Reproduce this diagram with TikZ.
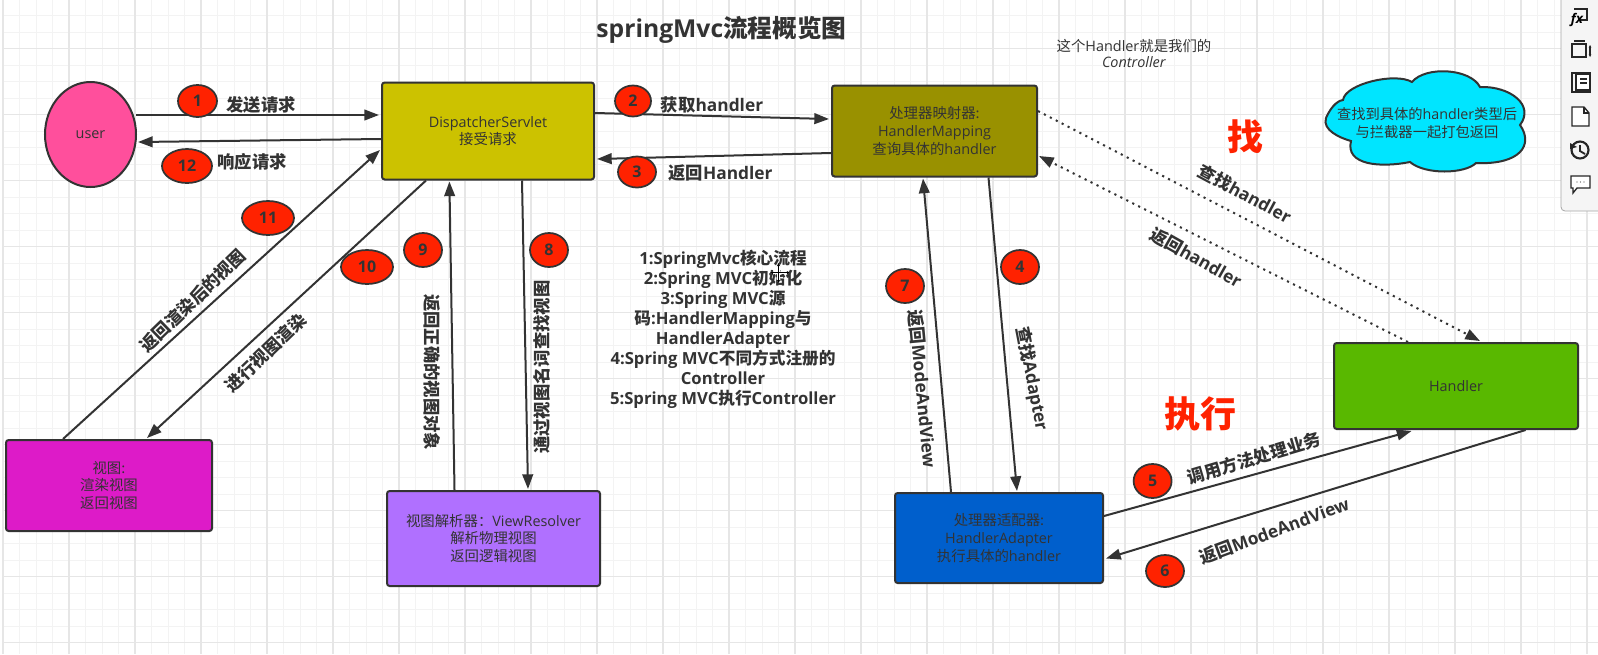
\documentclass[tikz,border=0pt]{standalone}
\usepackage{fontspec}
\setmainfont{Open Sans}
\newfontfamily\cjk{Noto Sans CJK SC}
\newcommand{\zh}[1]{{\cjk #1}}
\usetikzlibrary{arrows.meta, shapes.geometric}

\definecolor{inkdark}{HTML}{333333}
\definecolor{gridminor}{HTML}{F3F3F3}
\definecolor{gridmajor}{HTML}{E6E6E6}
\definecolor{badgered}{HTML}{FF2200}

\tikzset{
  boxsize/.style 2 args={minimum width=#1*0.75pt, minimum height=#2*0.75pt},
  stagebox/.style={draw=inkdark, line width=1.5pt, rounded corners=2pt, inner sep=0pt,
    align=center, text=inkdark, font=\fontsize{10.8pt}{13.2pt}\selectfont},
  badge/.style={ellipse, draw=inkdark, line width=1.3pt, fill=badgered, inner sep=0pt,
    text=inkdark, font=\fontsize{12pt}{14pt}\selectfont\bfseries},
  steplabel/.style={text=inkdark, inner sep=0pt, font=\fontsize{13pt}{15pt}\selectfont\bfseries},
  link/.style={->, line width=1.5pt, draw=inkdark},
  dotlink/.style={->, line width=1.5pt, draw=inkdark, dash pattern=on 1.6pt off 3.4pt},
  toolicon/.style={draw=black!85, line width=1pt},
}

\begin{document}
\begin{tikzpicture}[x=0.75pt, y=-0.75pt, >={Triangle[length=11pt,width=8pt]}]
  \useasboundingbox (0,0) rectangle (1598,654);

  % Grid
  \fill[white] (0,0) rectangle (1598,654);
  \foreach \gx in {0,1,...,97} {
    \draw[gridminor, line width=0.7pt] ({\gx*16.5+3},0) -- ({\gx*16.5+3},654);
  }
  \foreach \gy in {0,1,...,40} {
    \draw[gridminor, line width=0.7pt] (3,{\gy*16.5-0.8}) -- (1598,{\gy*16.5-0.8});
  }
  \foreach \gx in {0,1,...,24} {
    \draw[gridmajor, line width=0.8pt] ({\gx*66+3},0) -- ({\gx*66+3},654);
  }
  \foreach \gy in {0,1,...,9} {
    \draw[gridmajor, line width=0.8pt] (3,{\gy*66+48.7}) -- (1598,{\gy*66+48.7});
  }

  % Title and notes
  \node[text=inkdark, inner sep=0pt, font=\fontsize{18.5pt}{22pt}\selectfont\bfseries] (title) at (721.5,29.5) {springMvc\zh{流程概览图}};
  \node[text=inkdark, inner sep=0pt, align=center, font=\fontsize{10.8pt}{12pt}\selectfont] (note) at (1134,53) {\zh{这个}Handler\zh{就是我们的}\\\textit{Controller}};
  \node[text=inkdark, inner sep=0pt, align=center, font=\fontsize{12.5pt}{15pt}\selectfont\bfseries] (topics) at (723,329.5) {1:SpringMvc\zh{核心流程}\\2:Spring MVC\zh{初始化}\\3:Spring MVC\zh{源}\\\zh{码}:HandlerMapping\zh{与}\\HandlerAdapter\\4:Spring MVC\zh{不同方式注册的}\\Controller\\5:Spring MVC\zh{执行}Controller};
  \node[text=badgered, inner sep=0pt, font=\fontsize{27pt}{30pt}\selectfont\bfseries\cjk] (findmark) at (1245,136.5) {找};
  \node[text=badgered, inner sep=0pt, font=\fontsize{27pt}{30pt}\selectfont\bfseries\cjk] (runmark) at (1200.5,414) {执行};

  % Stages
  \node[ellipse, stagebox, fill={rgb,255:red,255;green,79;blue,156}, boxsize={91}{105}] (user) at (90.5,134.5) {user};
  \node[stagebox, fill={rgb,255:red,204;green,194;blue,0}, boxsize={212}{97}] (dispatcher) at (488,131) {DispatcherServlet\\\zh{接受请求}};
  \node[stagebox, fill={rgb,255:red,153;green,145;blue,0}, boxsize={205}{91}] (mapping) at (934.5,131) {\zh{处理器映射器:}\\HandlerMapping\\\zh{查询具体的}handler};
  \node[stagebox, fill={rgb,255:red,89;green,184;blue,0}, boxsize={244}{86}] (handler) at (1456,386) {Handler};
  \node[stagebox, fill={rgb,255:red,221;green,27;blue,200}, boxsize={206}{91}] (view) at (109,485.5) {\zh{视图:}\\\zh{渲染视图}\\\zh{返回视图}};
  \node[stagebox, fill={rgb,255:red,176;green,112;blue,255}, boxsize={213}{95}] (resolver) at (493.5,538.5) {\zh{视图解析器：}ViewResolver\\\zh{解析物理视图}\\\zh{返回逻辑视图}};
  \node[stagebox, fill={rgb,255:red,0;green,95;blue,204}, boxsize={208}{90}] (adapter) at (999,538) {\zh{处理器适配器:}\\HandlerAdapter\\\zh{执行具体的}handler};

  % Cloud
  \draw[draw=inkdark, line width=1.5pt, fill={rgb,255:red,0;green,229;blue,255}]
    (1326,118) .. controls (1332,104) and (1340,100) .. (1343,100)
    .. controls (1345,84) and (1395,72) .. (1412,82)
    .. controls (1425,66) and (1470,68) .. (1480,87)
    .. controls (1510,86) and (1535,105) .. (1520,125)
    .. controls (1534,145) and (1520,165) .. (1476,163)
    .. controls (1465,174) and (1425,175) .. (1410,162)
    .. controls (1380,168) and (1345,165) .. (1351,141)
    .. controls (1340,138) and (1322,130) .. (1326,118) -- cycle;
  \node[text=inkdark, inner sep=0pt, align=center, font=\fontsize{10.7pt}{13pt}\selectfont] (cloudtext) at (1427,123) {\zh{查找到具体的}handler\zh{类型后}\\\zh{与拦截器一起打包返回}};

  % Connectors
  \draw[link] ([shift={(-1,-19.5)}]user.east) -- ([shift={(-2,-16)}]dispatcher.west);
  \draw[link] ([shift={(0,8)}]dispatcher.west) -- ([shift={(1,7.5)}]user.east);
  \draw[link] ([shift={(-46,0)}]view.north) -- ([shift={(-1,19)}]dispatcher.west);
  \draw[link] ([shift={(-62,0)}]dispatcher.south) -- ([shift={(38,-1)}]view.north);
  \draw[link] ([shift={(-39,0)}]resolver.north) -- ([shift={(-38.6,1)}]dispatcher.south);
  \draw[link] ([shift={(34,0)}]dispatcher.south) -- ([shift={(34.5,-1)}]resolver.north);
  \draw[link] ([shift={(0,-18)}]dispatcher.east) -- ([shift={(-2,-12)}]mapping.west);
  \draw[link] ([shift={(0,22)}]mapping.west) -- ([shift={(2,28)}]dispatcher.east);
  \draw[link] ([shift={(54,0)}]mapping.south) -- ([shift={(18,-1)}]adapter.north);
  \draw[link] ([shift={(-48,0)}]adapter.north) -- ([shift={(-11.5,1)}]mapping.south);
  \draw[link] ([shift={(0,-22)}]adapter.east) -- ([shift={(-44.5,1)}]handler.south);
  \draw[link] ([shift={(69.6,0)}]handler.south) -- ([shift={(2,20.5)}]adapter.east);
  \draw[dotlink] ([shift={(0,-20)}]mapping.east) -- ([shift={(24,-1)}]handler.north);
  \draw[dotlink] ([shift={(-48,0)}]handler.north) -- ([shift={(1,25)}]mapping.east);

  % Step badges
  \node[badge, boxsize={39}{32}] (s1) at (197.5,101) {1};
  \node[badge, boxsize={36}{31}] (s2) at (633,101) {2};
  \node[badge, boxsize={38}{31}] (s3) at (637,172) {3};
  \node[badge, boxsize={38}{34}] (s4) at (1020,267) {4};
  \node[badge, boxsize={38}{34}] (s5) at (1152.6,481) {5};
  \node[badge, boxsize={38}{32}] (s6) at (1165,571) {6};
  \node[badge, boxsize={38}{34}] (s7) at (905,286) {7};
  \node[badge, boxsize={38}{34}] (s8) at (549,250) {8};
  \node[badge, boxsize={38}{34}] (s9) at (423,250) {9};
  \node[badge, boxsize={52}{34}] (s10) at (367,267) {10};
  \node[badge, boxsize={52}{34}] (s11) at (268,218) {11};
  \node[badge, boxsize={50}{34}] (s12) at (187,166) {12};

  % Step labels
  \node[steplabel] (t1) at (261,105) {\zh{发送请求}};
  \node[steplabel] (t12) at (252,162) {\zh{响应请求}};
  \node[steplabel] (t2) at (712,105) {\zh{获取}handler};
  \node[steplabel] (t3) at (720.5,173) {\zh{返回}Handler};
  \node[steplabel, rotate=44] (t11) at (192.5,301) {\zh{返回渲染后的视图}};
  \node[steplabel, rotate=44] (t10) at (265.8,352.4) {\zh{进行视图渲染}};
  \node[steplabel, rotate=-90] (t9) at (432,372) {\zh{返回正确的视图对象}};
  \node[steplabel, rotate=90] (t8) at (542,367) {\zh{通过视图名词查找视图}};
  \node[steplabel, rotate=-84.7] (t7) at (922.5,389) {\zh{返回}ModeAndView};
  \node[steplabel, rotate=-79] (t4) at (1031.7,379) {\zh{查找}Adapter};
  \node[steplabel, rotate=16.5] (t5) at (1254,458.3) {\zh{调用方法处理业务}};
  \node[steplabel, rotate=20.5] (t6) at (1274,530.8) {\zh{返回}ModeAndView};
  \node[steplabel, rotate=-28.2] (tfind) at (1245,194) {\zh{查找}handler};
  \node[steplabel, rotate=-29.4] (tback) at (1195.8,257.5) {\zh{返回}handler};

  % Cursor
  \draw[<->, >={Stealth[length=3pt,width=3pt]}, line width=1.8pt, white] (770,272.7) -- (790,272.7);
  \draw[<->, >={Stealth[length=3pt,width=3pt]}, line width=1.8pt, white] (778.5,263) -- (778.5,283);
  \draw[<->, >={Stealth[length=2.5pt,width=2.5pt]}, line width=0.5pt, black] (770,272.7) -- (790,272.7);
  \draw[<->, >={Stealth[length=2.5pt,width=2.5pt]}, line width=0.5pt, black] (778.5,263) -- (778.5,283);

  % Toolbar
  \draw[draw=black!35, line width=0.6pt, fill=black!4, rounded corners=3pt] (1561,-5) rectangle (1604,211);
  \draw[toolicon] (1574,9) -- (1587,9) -- (1587,20) -- (1578,20);
  \node[inner sep=0pt, font=\fontsize{10pt}{10pt}\selectfont\bfseries\itshape] (fxicon) at (1577,20) {fx};
  \draw[toolicon] (1572,44) rectangle (1586,57);
  \draw[toolicon] (1574,41) -- (1585,41);
  \draw[toolicon, <->, >={Stealth[length=2pt,width=2pt]}] (1590,45) -- (1590,57);
  \draw[toolicon] (1572,73) rectangle (1590,92);
  \draw[toolicon, fill=white] (1576,74) rectangle (1590,90);
  \draw[toolicon] (1580,79) -- (1587,79) (1580,83) -- (1587,83);
  \draw[toolicon, fill=white] (1572,107) -- (1584,107) -- (1589,113) -- (1589,126) -- (1572,126) -- cycle;
  \draw[toolicon] (1584,107) -- (1584,113) -- (1589,113);
  \draw[line width=1.6pt, draw=black!85] (1580,150) circle (8.5);
  \draw[line width=1.4pt, draw=black!85] (1580,145) -- (1580,151) -- (1585,154);
  \fill[black!85] (1570,143) -- (1577,147) -- (1570,149) -- cycle;
  \draw[toolicon, fill=white] (1571,176) -- (1590,176) -- (1590,188) -- (1577,188) -- (1573,193) -- (1573,188) -- (1571,188) -- cycle;
  \fill[black!70] (1577,182) circle (0.7) (1580.5,182) circle (0.7) (1584,182) circle (0.7);

\end{tikzpicture}
\end{document}
